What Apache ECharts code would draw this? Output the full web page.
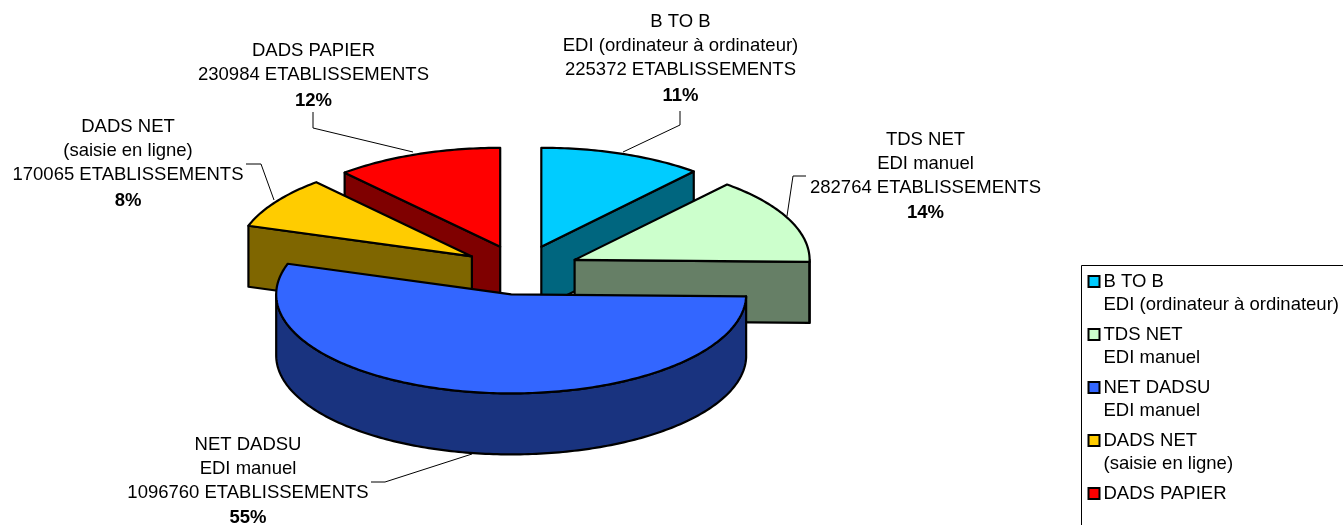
<!DOCTYPE html>
<html>
<head>
<meta charset="utf-8">
<style>html,body{margin:0;padding:0;background:#fff}#c{width:1343px;height:525px}</style>
<script src="https://cdn.jsdelivr.net/npm/echarts@6/dist/echarts.min.js"></script>
</head>
<body>
<div id="c"></div>
<script>
// Data
const categories = ['B TO B\nEDI (ordinateur à ordinateur)', 'TDS NET\nEDI manuel', 'NET DADSU\nEDI manuel', 'DADS NET\n(saisie en ligne)', 'DADS PAPIER\n '];
const labelLines = [['B TO B', 'EDI (ordinateur à ordinateur)'], ['TDS NET', 'EDI manuel'], ['NET DADSU', 'EDI manuel'], ['DADS NET', '(saisie en ligne)'], ['DADS PAPIER']];
const values = [225372, 282764, 1096760, 170065, 230984];
const unitLabel = 'ETABLISSEMENTS';
// Styles
const topColors = ['#00CCFF', '#CCFFCC', '#3366FF', '#FFCC00', '#FF0000'];
const wallColors = ['#00667F', '#667F66', '#19337F', '#7F6600', '#7F0000'];
const drawOrder = [4, 3, 0, 1, 2];
// Layout
const pie = {cx: 521, cy: 270, rx: 235, ry: 99, depth: 61, explode: 0.25};
const labelPos = [
  {x: 680.5, y: [22, 46, 70, 96]},
  {x: 925.5, y: [140, 164, 188, 213]},
  {x: 248, y: [445, 469, 493, 518]},
  {x: 128, y: [127, 151, 175, 201]},
  {x: 313.5, y: [51, 75, 101]}
];
const leaders = [
  [[680, 111], [680, 125], [623, 152]],
  [[806, 176], [793, 176], [787, 216]],
  [[371, 482], [385, 482], [472, 454]],
  [[246, 164], [261, 164], [274, 200]],
  [[313, 112], [313, 128], [413, 152]]
];

const total = values.reduce((a, b) => a + b, 0);
const starts = [];
values.reduce((acc, v, i) => { starts[i] = acc; return acc + v; }, 0);
const rad = v => v / total * Math.PI * 2;

function slice(i, api) {
  const a0 = rad(starts[i]), a1 = a0 + rad(values[i]), mid = (a0 + a1) / 2;
  const ox = pie.cx + Math.sin(mid) * pie.explode * pie.rx;
  const oy = pie.cy - Math.cos(mid) * pie.explode * pie.ry;
  const rim = (a, dz) => [ox + Math.sin(a) * pie.rx, oy - Math.cos(a) * pie.ry + (dz || 0)];
  const arc = (s, e, dz) => {
    const n = Math.max(2, Math.ceil(Math.abs(e - s) * 60)), pts = [];
    for (let k = 0; k <= n; k++) pts.push(rim(s + (e - s) * k / n, dz));
    return pts;
  };
  const base = {stroke: '#000', lineWidth: 2.2, lineJoin: 'round'};
  const wall = {...base, fill: wallColors[i]};
  const children = [];
  const apex = [ox, oy], apexB = [ox, oy + pie.depth];
  if (Math.sin(a0) < -1e-6) children.push({type: 'polygon', shape: {points: [apex, rim(a0), rim(a0, pie.depth), apexB]}, style: wall});
  if (Math.sin(a1) > 1e-6) children.push({type: 'polygon', shape: {points: [apex, rim(a1), rim(a1, pie.depth), apexB]}, style: wall});
  const f0 = Math.max(a0, Math.PI / 2), f1 = Math.min(a1, Math.PI * 1.5);
  if (f1 > f0) children.push({type: 'polygon', shape: {points: arc(f0, f1, 0).concat(arc(f1, f0, pie.depth))}, style: wall});
  children.push({type: 'polygon', shape: {points: [apex].concat(arc(a0, a1, 0))}, style: {...base, fill: topColors[i]}});
  // leader line and label
  children.push({type: 'polyline', shape: {points: leaders[i]}, style: {stroke: '#000', lineWidth: 1, fill: null}});
  const lines = labelLines[i].concat([values[i] + ' ' + unitLabel, Math.round(values[i] / total * 100) + '%']);
  lines.forEach((t, k) => children.push({
    type: 'text',
    style: {text: t, x: labelPos[i].x, y: labelPos[i].y[k], align: 'center', verticalAlign: 'middle',
      font: (k === lines.length - 1 ? 'bold ' : '') + '18.5px "Liberation Sans", Arial, sans-serif', fill: '#000'}
  }));
  return {type: 'group', children};
}

const series = drawOrder.map((i, order) => ({
  type: 'custom',
  name: categories[i],
  coordinateSystem: 'none',
  z: 10 + order,
  silent: true,
  animation: false,
  itemStyle: {color: topColors[i]},
  data: [[values[i]]],
  renderItem: (params, api) => slice(i, api)
}));

const chart = echarts.init(document.getElementById('c'), null, {renderer: 'canvas'});
chart.setOption({
  animation: false,
  backgroundColor: '#fff',
  graphic: [{type: 'rect', z: 1, shape: {x: 1081.5, y: 265.5, width: 320, height: 320}, style: {fill: '#fff', stroke: '#000', lineWidth: 1}, silent: true}],
  legend: {
    left: 1087.5, top: 269, width: 300, height: 400, orient: 'vertical', padding: 0, z: 5,
    data: categories,
    selectedMode: false,
    icon: 'path://M0 0L0 0M0 6H11V17H0ZM0 46L0 46',
    itemWidth: 11, itemHeight: 46, itemGap: 5,
    itemStyle: {borderColor: '#000', borderWidth: 2},
    textStyle: {fontFamily: '"Liberation Sans", Arial, sans-serif', fontSize: 18.5, lineHeight: 23, color: '#000', padding: [0, 0, 0, -1]}
  },
  series
});
</script>
</body>
</html>
